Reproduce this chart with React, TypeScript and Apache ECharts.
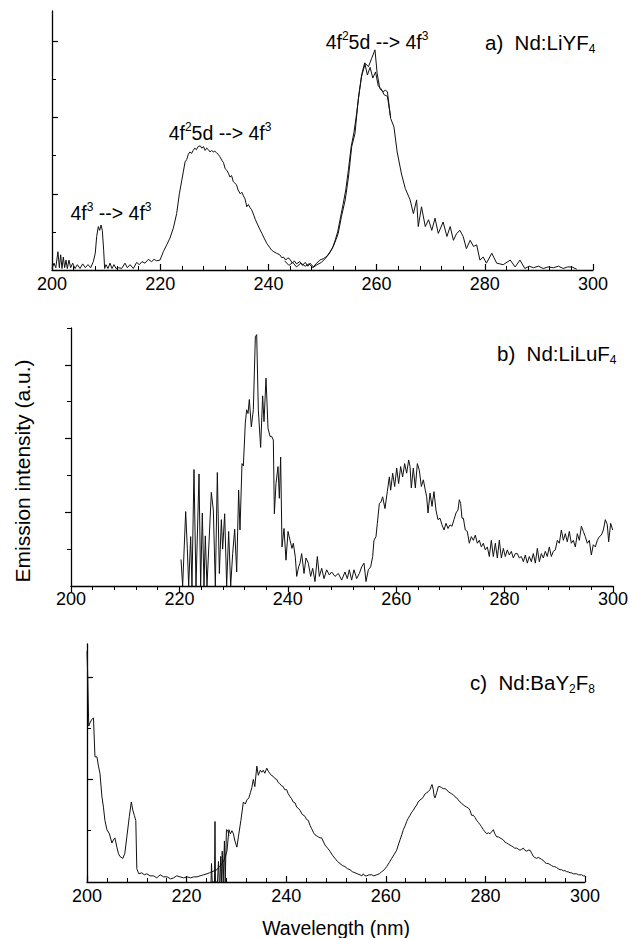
import React, { useEffect, useRef } from "react";
import * as echarts from "echarts";

// ---------- DATA (wavelength nm, intensity a.u.) ----------
const wavelengthTicks = [200, 220, 240, 260, 280, 300];

// a) Nd:LiYF4 — main trace
const liyfMain: [number, number][] = [
  [200.0, 0.02], [200.37, 0.09], [200.7, 0.03], [201.1, 0.24], [201.36, 0.03], [201.6, 0.2], [201.85, 0.02],
  [202.09, 0.17], [202.34, 0.03], [202.59, 0.13], [202.83, 0.02], [203.14, 0.13], [203.45, 0.03], [203.82, 0.09],
  [204.25, 0.02], [204.68, 0.07], [205.18, 0.02], [205.67, 0.08], [206.16, 0.03], [206.65, 0.07], [207.15, 0.03],
  [207.64, 0.11], [208.0, 0.22], [208.26, 0.44], [208.56, 0.57], [208.81, 0.52], [209.06, 0.59], [209.3, 0.52],
  [209.55, 0.26], [209.73, 0.02], [209.98, 0.07], [210.35, 0.02], [210.72, 0.09], [211.09, 0.02], [211.46, 0.07],
  [211.83, 0.02], [212.32, 0.03], [212.88, 0.02], [213.49, 0.09], [213.92, 0.03], [214.42, 0.07], [215.03, 0.02],
  [215.65, 0.1], [216.14, 0.07], [216.64, 0.11], [217.19, 0.09], [217.81, 0.14], [218.42, 0.11], [218.85, 0.14],
  [219.35, 0.12], [219.96, 0.13], [220.58, 0.24], [221.2, 0.33], [221.81, 0.42], [222.43, 0.55], [223.04, 0.74],
  [223.54, 1.0], [224.0, 1.18], [224.3, 1.3], [224.6, 1.42], [224.9, 1.45], [225.2, 1.52], [225.5, 1.55],
  [225.8, 1.53], [226.1, 1.57], [226.4, 1.6], [226.7, 1.58], [227.0, 1.62], [227.4, 1.63], [227.7, 1.6],
  [228.0, 1.62], [228.3, 1.57], [228.6, 1.6], [228.9, 1.58], [229.2, 1.55], [229.5, 1.57], [229.8, 1.55],
  [230.1, 1.56], [230.4, 1.54], [230.7, 1.52], [231.0, 1.49], [231.4, 1.44], [231.7, 1.41], [232.0, 1.33],
  [232.3, 1.31], [232.6, 1.27], [232.9, 1.22], [233.2, 1.24], [233.5, 1.16], [233.8, 1.14], [234.1, 1.12],
  [234.4, 1.05], [234.8, 1.0], [235.1, 1.02], [235.4, 0.97], [235.7, 0.93], [236.0, 0.83], [236.3, 0.86],
  [236.6, 0.82], [236.9, 0.79], [237.3, 0.72], [237.6, 0.66], [237.8, 0.63], [238.3, 0.55], [238.8, 0.48],
  [239.2, 0.42], [239.7, 0.35], [240.2, 0.3], [240.6, 0.26], [241.0, 0.24], [241.5, 0.22], [242.1, 0.2],
  [242.5, 0.16], [242.8, 0.17], [243.2, 0.13], [243.6, 0.16], [244.0, 0.14], [244.4, 0.09], [244.8, 0.12],
  [245.2, 0.08], [245.8, 0.11], [246.3, 0.06], [246.8, 0.1], [247.3, 0.05], [247.7, 0.09], [248.3, 0.04],
  [248.8, 0.08], [249.5, 0.13], [250.2, 0.15], [250.8, 0.18], [251.4, 0.24], [252.0, 0.31], [252.5, 0.4],
  [252.9, 0.48], [253.5, 0.7], [254.2, 0.92], [254.8, 1.22], [255.4, 1.62], [256.0, 1.79], [256.6, 2.23],
  [257.2, 2.54], [257.9, 2.71], [258.5, 2.67], [259.1, 2.78], [259.7, 2.89], [260.1, 2.58], [260.6, 2.38],
  [261.2, 2.34], [261.6, 2.36], [262.0, 2.34], [262.6, 1.99], [263.2, 1.88], [263.8, 1.55], [264.6, 1.26],
  [265.3, 1.07], [266.2, 0.92], [266.8, 0.74], [267.4, 0.92], [267.7, 0.57], [268.3, 0.83], [269.0, 0.57],
  [269.6, 0.66], [270.2, 0.52], [270.8, 0.68], [271.4, 0.48], [272.3, 0.63], [273.0, 0.44], [273.6, 0.57],
  [274.2, 0.39], [274.8, 0.48], [275.4, 0.52], [276.0, 0.44], [276.6, 0.28], [277.3, 0.39], [277.9, 0.31],
  [278.5, 0.33], [279.1, 0.13], [279.7, 0.17], [280.3, 0.09], [281.3, 0.22], [282.2, 0.09], [283.4, 0.07],
  [284.7, 0.13], [285.6, 0.04], [286.5, 0.13], [287.4, 0.02], [288.2, 0.05], [289.0, 0.03], [289.9, 0.05],
  [290.8, 0.02], [291.7, 0.04], [292.7, 0.03], [293.6, 0.05], [294.5, 0.02], [295.3, 0.04], [296.1, 0.04],
  [297.0, 0.01],
];

// a) Nd:LiYF4 — second, overlapping trace around 260 nm
const liyfSecond: [number, number][] = [
  [243.0, 0.12], [243.8, 0.06], [244.5, 0.1], [245.2, 0.04], [246.0, 0.09], [246.8, 0.05], [247.5, 0.08],
  [248.2, 0.03], [249.0, 0.07], [249.8, 0.1], [250.5, 0.15], [251.2, 0.21], [251.8, 0.28], [252.3, 0.38],
  [252.8, 0.5], [253.3, 0.68], [253.8, 0.86], [254.3, 1.05], [254.8, 1.32], [255.3, 1.62], [255.8, 1.8],
  [256.3, 2.05], [256.8, 2.34], [257.3, 2.58], [257.8, 2.72], [258.3, 2.56], [258.8, 2.66], [259.3, 2.52],
  [259.8, 2.6], [260.3, 2.42], [260.8, 2.38], [261.4, 2.3], [262.0, 2.28], [262.6, 2.0],
];

// b) Nd:LiLuF4
const liluf: [number, number][] = [
  [220.3, 0.36], [220.6, 0], [221.16, 1.01], [221.46, 0.51], [221.71, 0], [222.08, 0.67], [222.32, 0],
  [222.69, 1.58], [223.06, 0], [223.62, 1.52], [223.92, 0], [224.23, 0.99], [224.54, 0], [224.78, 0.68],
  [225.09, 0], [225.89, 1.27], [226.26, 1.03], [226.63, 0], [227.0, 1.54], [227.37, 0.17], [227.74, 0.9],
  [227.98, 0.5], [228.35, 0.98], [228.72, 0], [229.09, 0.74], [229.46, 0], [229.83, 0.44], [230.2, 0.77],
  [230.57, 0.19], [230.93, 1.3], [231.18, 0.76], [231.55, 1.66], [231.8, 1.63], [232.16, 2.21], [232.41, 2.39],
  [232.66, 2.34], [232.9, 2.53], [233.27, 2.16], [233.64, 2.39], [234.01, 3.38], [234.26, 3.41], [234.56, 2.39],
  [234.99, 1.88], [235.36, 2.58], [235.61, 2.23], [235.98, 2.82], [236.35, 2.14], [236.72, 2.03], [237.02, 2.03],
  [237.33, 1.98], [237.52, 0.98], [237.82, 1.39], [238.19, 1.62], [238.44, 1.19], [238.68, 1.75], [238.93, 0.53],
  [239.3, 0.78], [239.67, 0.35], [240.04, 0.74], [240.41, 0.62], [240.77, 0.51], [241.02, 0.58], [241.39, 0.39],
  [241.64, 0.13], [242.0, 0.26], [242.25, 0.31], [242.56, 0.44], [242.99, 0.17], [243.36, 0.38], [243.79, 0.31],
  [244.22, 0.13], [244.59, 0.24], [245.02, 0.06], [245.45, 0.4], [245.82, 0.13], [246.25, 0.24], [246.68, 0.1],
  [247.17, 0.22], [247.66, 0.15], [248.09, 0.19], [248.71, 0.13], [249.32, 0.17], [249.94, 0.08], [250.55, 0.19],
  [250.98, 0.1], [251.35, 0.22], [251.78, 0.08], [252.21, 0.22], [252.71, 0.1], [253.2, 0.17], [253.63, 0.26],
  [254.06, 0.31], [254.43, 0.06], [254.86, 0.22], [255.29, 0.26], [255.66, 0.4], [255.9, 0.62], [256.27, 0.67],
  [256.52, 0.85], [256.89, 1.12], [257.2, 1.14], [257.5, 1.21], [257.93, 1.05], [258.36, 1.28], [258.73, 1.48],
  [258.98, 1.3], [259.35, 1.53], [259.72, 1.35], [260.09, 1.6], [260.45, 1.39], [260.82, 1.62], [261.19, 1.48],
  [261.56, 1.66], [261.93, 1.53], [262.3, 1.71], [262.55, 1.62], [262.79, 1.33], [263.16, 1.6], [263.53, 1.33],
  [263.9, 1.66], [264.27, 1.57], [264.64, 1.35], [265.01, 1.44], [265.37, 1.3], [265.62, 1.21], [265.87, 0.99],
  [266.24, 1.26], [266.61, 1.08], [266.97, 1.28], [267.34, 1.03], [267.71, 0.9], [268.08, 0.92], [268.45, 0.83],
  [268.82, 0.76], [269.19, 0.85], [269.56, 0.78], [269.93, 0.83], [270.29, 0.81], [270.66, 0.9], [271.03, 0.99],
  [271.4, 1.03], [271.65, 1.17], [271.89, 1.12], [272.14, 0.92], [272.39, 0.92], [272.75, 0.76], [273.12, 0.74],
  [273.49, 0.58], [273.86, 0.67], [274.23, 0.62], [274.6, 0.69], [274.97, 0.58], [275.34, 0.62], [275.71, 0.53],
  [276.08, 0.58], [276.44, 0.49], [276.81, 0.53], [277.18, 0.4], [277.55, 0.62], [277.92, 0.4], [278.29, 0.58],
  [278.66, 0.38], [279.03, 0.62], [279.4, 0.38], [279.77, 0.51], [280.13, 0.4], [280.5, 0.49], [280.87, 0.42],
  [281.24, 0.47], [281.61, 0.38], [281.98, 0.44], [282.35, 0.44], [282.72, 0.38], [283.09, 0.4], [283.46, 0.33],
  [283.82, 0.42], [284.19, 0.31], [284.56, 0.4], [284.93, 0.33], [285.3, 0.44], [285.67, 0.31], [286.04, 0.51],
  [286.41, 0.33], [286.78, 0.44], [287.15, 0.38], [287.51, 0.47], [287.88, 0.4], [288.25, 0.53], [288.62, 0.4],
  [288.99, 0.47], [289.36, 0.49], [289.73, 0.62], [290.1, 0.58], [290.47, 0.76], [290.84, 0.62], [291.2, 0.71],
  [291.57, 0.6], [291.94, 0.74], [292.31, 0.58], [292.68, 0.62], [293.05, 0.53], [293.42, 0.71], [293.79, 0.62],
  [294.16, 0.81], [294.53, 0.74], [294.89, 0.67], [295.26, 0.58], [295.63, 0.62], [296.0, 0.42], [296.37, 0.56],
  [296.74, 0.53], [297.11, 0.62], [297.48, 0.67], [297.85, 0.69], [298.22, 0.76], [298.58, 0.9], [298.95, 0.83],
  [299.2, 0.6], [299.57, 0.85], [299.94, 0.76],
];

// c) Nd:BaY2F8 — main trace
const bayfMain: [number, number][] = [
  [200.0, 2.25], [200.15, 2.0], [200.35, 1.52], [200.6, 1.55], [200.9, 1.58], [201.3, 1.6], [201.6, 1.22],
  [202.0, 1.22], [202.3, 1.13], [202.6, 1.06], [203.0, 0.83], [203.3, 0.73], [203.6, 0.6], [204.0, 0.51],
  [204.5, 0.47], [205.0, 0.38], [205.3, 0.41], [205.6, 0.43], [206.0, 0.34], [206.3, 0.28], [206.6, 0.25],
  [207.2, 0.23], [207.6, 0.28], [208.0, 0.44], [208.5, 0.64], [208.9, 0.78], [209.2, 0.7], [209.5, 0.65],
  [209.8, 0.6], [210.0, 0.13], [210.4, 0.08], [211.0, 0.09], [211.5, 0.07], [212.0, 0.08], [212.7, 0.06],
  [213.4, 0.06], [214.0, 0.04], [214.7, 0.07], [215.4, 0.05], [216.1, 0.05], [216.8, 0.03], [217.4, 0.04],
  [218.0, 0.06], [218.7, 0.05], [219.4, 0.04], [220.1, 0.05], [220.8, 0.04], [221.4, 0.05], [222.1, 0.05],
  [222.7, 0.06], [223.4, 0.07], [224.1, 0.08], [224.6, 0.09], [225.1, 0.1], [225.6, 0.11], [226.1, 0.12],
  [226.6, 0.15], [227.1, 0.18], [227.6, 0.22], [228.1, 0.3], [228.5, 0.51], [228.8, 0.47], [229.1, 0.5],
  [229.4, 0.47], [229.7, 0.4], [230.1, 0.34], [230.4, 0.44], [230.9, 0.6], [231.4, 0.78], [231.8, 0.76],
  [232.1, 0.8], [232.5, 0.82], [232.8, 0.87], [233.1, 0.92], [233.4, 1.0], [233.7, 0.93], [234.1, 1.13],
  [234.4, 1.04], [234.8, 1.09], [235.1, 1.07], [235.4, 1.09], [235.7, 1.06], [236.1, 1.11], [236.4, 1.08],
  [236.7, 1.06], [237.0, 1.04], [237.4, 1.03], [237.7, 1.01], [238.1, 1.0], [238.4, 0.97], [238.7, 0.96],
  [239.0, 0.94], [239.4, 0.93], [239.7, 0.9], [240.1, 0.9], [240.4, 0.86], [240.8, 0.83], [241.1, 0.81],
  [241.4, 0.78], [241.8, 0.77], [242.1, 0.73], [242.4, 0.72], [242.77, 0.7], [243.2, 0.66], [243.77, 0.64],
  [244.1, 0.61], [244.44, 0.6], [244.8, 0.55], [245.11, 0.52], [245.5, 0.48], [245.78, 0.46], [246.1, 0.45],
  [246.45, 0.44], [246.8, 0.43], [247.12, 0.43], [247.5, 0.39], [247.79, 0.36], [248.3, 0.33], [248.79, 0.3],
  [249.3, 0.26], [249.8, 0.23], [250.3, 0.2], [250.8, 0.18], [251.3, 0.16], [251.8, 0.15], [252.3, 0.13],
  [252.81, 0.12], [253.3, 0.1], [253.81, 0.09], [254.3, 0.08], [254.82, 0.07], [255.2, 0.06], [255.49, 0.08],
  [255.8, 0.06], [256.16, 0.06], [256.6, 0.07], [257.16, 0.07], [257.6, 0.06], [258.16, 0.07], [258.7, 0.08],
  [259.17, 0.1], [259.7, 0.12], [260.17, 0.15], [260.7, 0.19], [261.18, 0.23], [261.7, 0.27], [262.18, 0.31],
  [262.5, 0.36], [262.85, 0.41], [263.2, 0.46], [263.52, 0.51], [263.9, 0.55], [264.19, 0.59], [264.5, 0.62],
  [264.86, 0.65], [265.2, 0.68], [265.53, 0.7], [265.9, 0.73], [266.2, 0.75], [266.5, 0.78], [266.87, 0.8],
  [267.2, 0.81], [267.54, 0.83], [267.9, 0.86], [268.21, 0.87], [268.5, 0.88], [268.87, 0.9], [269.1, 0.93],
  [269.28, 0.95], [269.54, 0.9], [269.7, 0.84], [269.88, 0.82], [270.21, 0.87], [270.55, 0.93], [270.88, 0.93],
  [271.2, 0.92], [271.55, 0.91], [271.9, 0.91], [272.22, 0.9], [272.55, 0.88], [272.89, 0.87], [273.2, 0.86],
  [273.56, 0.85], [273.9, 0.83], [274.23, 0.82], [274.55, 0.8], [274.9, 0.78], [275.2, 0.77], [275.57, 0.75],
  [275.9, 0.74], [276.24, 0.73], [276.6, 0.72], [276.91, 0.7], [277.24, 0.65], [277.58, 0.65], [277.9, 0.63],
  [278.25, 0.6], [278.6, 0.58], [278.92, 0.56], [279.2, 0.54], [279.58, 0.51], [279.9, 0.49], [280.25, 0.47],
  [280.6, 0.48], [280.92, 0.47], [281.25, 0.49], [281.59, 0.51], [281.9, 0.47], [282.26, 0.44], [282.6, 0.44],
  [282.93, 0.43], [283.3, 0.42], [283.6, 0.41], [283.9, 0.39], [284.27, 0.38], [284.6, 0.37], [284.94, 0.36],
  [285.3, 0.35], [285.61, 0.34], [285.9, 0.33], [286.28, 0.33], [286.6, 0.32], [286.95, 0.31], [287.3, 0.32],
  [287.62, 0.33], [287.9, 0.31], [288.29, 0.3], [288.6, 0.31], [288.96, 0.31], [289.3, 0.28], [289.63, 0.25],
  [289.9, 0.24], [290.3, 0.23], [290.6, 0.24], [290.97, 0.23], [291.3, 0.22], [291.64, 0.21], [291.95, 0.19],
  [292.31, 0.18], [292.6, 0.18], [292.97, 0.17], [293.3, 0.16], [293.64, 0.15], [293.95, 0.15], [294.31, 0.14],
  [294.6, 0.13], [294.98, 0.12], [295.3, 0.12], [295.65, 0.11], [296.0, 0.11], [296.32, 0.1], [296.6, 0.1],
  [296.99, 0.09], [297.3, 0.09], [297.66, 0.08], [298.0, 0.08], [298.33, 0.08], [298.7, 0.07], [299.0, 0.07],
  [299.3, 0.07], [299.67, 0.06], [300.0, 0.06],
];

// c) Nd:BaY2F8 — noisy spikes near 225–228 nm
const bayfSpikes: [number, number][] = [
  [224.9, 0], [225.0, 0.18], [225.15, 0], [225.6, 0], [225.7, 0.59], [225.8, 0], [226.2, 0], [226.4, 0.2],
  [226.55, 0], [226.7, 0], [226.85, 0.25], [227.0, 0], [227.15, 0.3], [227.35, 0], [227.6, 0.4], [227.75, 0],
  [228.0, 0.51], [228.3, 0.5], [228.5, 0.45],
];

const majorTicksA = [1, 2, 3];
const minorTicksA = [0.5, 1.5, 2.5];
const majorTicksB = [1, 2, 3];
const minorTicksB = [0.5, 1.5, 2.5, 3.5];
const majorTicksC = [1, 2];
const minorTicksC = [0.5, 1.5];

// ---------- STYLE ----------
const FONT = "'Liberation Sans', Arial, Helvetica, sans-serif";
const INK = "#111";

const RICH = {
  sup: { fontSize: 12, fontFamily: FONT, fill: "#000", verticalAlign: "top", lineHeight: 12 },
  sub: { fontSize: 12, fontFamily: FONT, fill: "#000", verticalAlign: "bottom", lineHeight: 12 },
};

function xAxisFor(gridIndex: number, inside: boolean, margin: number) {
  return {
    type: "value",
    gridIndex,
    min: wavelengthTicks[0],
    max: wavelengthTicks[wavelengthTicks.length - 1],
    interval: 20,
    axisLine: { show: true, onZero: false, lineStyle: { color: "#000", width: 1.3 } },
    axisTick: { show: true, inside, length: 6, lineStyle: { color: "#000", width: 1.2 } },
    minorTick: { show: true, splitNumber: 5, length: 4, lineStyle: { color: "#000", width: 1 } },
    axisLabel: { show: true, fontSize: 18, fontFamily: FONT, color: "#000", margin },
    splitLine: { show: false },
    minorSplitLine: { show: false },
  };
}

function yAxesFor(gridIndex: number, max: number, inside: boolean, major: number[], minor: number[]) {
  return [
    {
      type: "value",
      gridIndex,
      position: "left",
      min: 0,
      max,
      axisLine: { show: true, onZero: false, lineStyle: { color: "#000", width: 1.3 } },
      axisTick: { show: true, inside, length: 6, customValues: major, lineStyle: { color: "#000", width: 1.2 } },
      axisLabel: { show: false },
      splitLine: { show: false },
    },
    {
      type: "value",
      gridIndex,
      position: "left",
      min: 0,
      max,
      axisLine: { show: false, onZero: false },
      axisTick: { show: true, inside, length: 4, customValues: minor, lineStyle: { color: "#000", width: 1 } },
      axisLabel: { show: false },
      splitLine: { show: false },
    },
  ];
}

function lineSeries(data: [number, number][], xAxisIndex: number, yAxisIndex: number) {
  return {
    type: "line",
    data,
    xAxisIndex,
    yAxisIndex,
    showSymbol: false,
    symbol: "none",
    smooth: false,
    lineStyle: { color: INK, width: 1 },
    itemStyle: { color: INK },
    clip: true,
    silent: true,
  };
}

function txt(x: number, y: number, text: string, fontSize: number, align = "center", extra: any = {}) {
  return {
    type: "text",
    x,
    y,
    ...extra,
    style: {
      text,
      fill: "#000",
      fontSize,
      fontFamily: FONT,
      align,
      verticalAlign: "middle",
      lineHeight: 25,
      rich: RICH,
    },
  };
}

export default function App() {
  const ref = useRef<HTMLDivElement>(null);
  useEffect(() => {
    if (!ref.current) return;
    const chart = echarts.init(ref.current, null, { renderer: "svg" });
    const option: any = {
      animation: false,
      backgroundColor: "#fff",
      grid: [
        { left: 52, top: 11, width: 541, height: 259, containLabel: false, outerBoundsMode: "none" },
        { left: 71, top: 328, width: 542, height: 258, containLabel: false, outerBoundsMode: "none" },
        { left: 87, top: 644, width: 498, height: 238, containLabel: false, outerBoundsMode: "none" },
      ],
      xAxis: [xAxisFor(0, true, 5), xAxisFor(1, false, 4), xAxisFor(2, true, 5)],
      yAxis: [
        ...yAxesFor(0, 3.4, true, majorTicksA, minorTicksA),
        ...yAxesFor(1, 3.5, false, majorTicksB, minorTicksB),
        ...yAxesFor(2, 2.32, true, majorTicksC, minorTicksC),
      ],
      series: [
        lineSeries(liyfMain, 0, 0),
        lineSeries(liyfSecond, 0, 0),
        lineSeries(liluf, 1, 2),
        lineSeries(bayfMain, 2, 4),
        lineSeries(bayfSpikes, 2, 4),
      ],
      graphic: [
        txt(111, 213, "4f{sup|3} --> 4f{sup|3}", 19.5),
        txt(220, 133, "4f{sup|2}5d --> 4f{sup|3}", 19.5),
        txt(377, 42, "4f{sup|2}5d --> 4f{sup|3}", 19.5),
        txt(485, 42, "a)\u00a0\u00a0Nd:LiYF{sub|4}", 20.5, "left"),
        txt(497, 353, "b)\u00a0\u00a0Nd:LiLuF{sub|4}", 20.5, "left"),
        txt(470, 682, "c)\u00a0\u00a0Nd:BaY{sub|2}F{sub|8}", 20.5, "left"),
        txt(22, 471, "Emission intensity (a.u.)", 21, "center", { rotation: Math.PI / 2 }),
        txt(336, 928, "Wavelength (nm)", 19.5),
      ],
    };
    chart.setOption(option);
    return () => chart.dispose();
  }, []);
  return (
    <div
      ref={ref}
      style={{ position: "fixed", left: 0, top: 0, width: 630, height: 938, background: "#fff" }}
    />
  );
}
